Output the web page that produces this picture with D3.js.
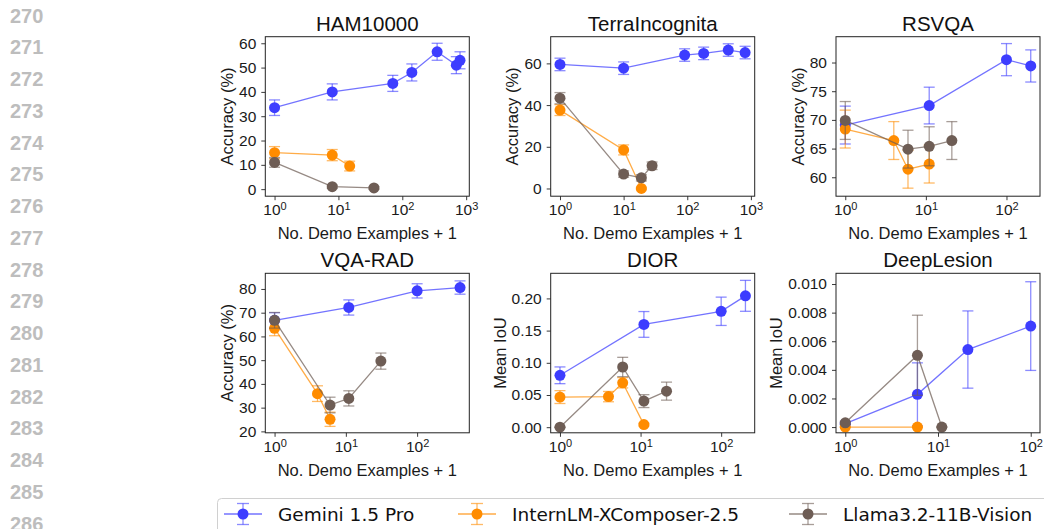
<!DOCTYPE html>
<html>
<head>
<meta charset="utf-8">
<script src="https://cdn.jsdelivr.net/npm/d3@7"></script>
<style>
  body { margin: 0; background: #fff; }
  svg { display: block; }
</style>
</head>
<body>
<div id="chart"></div>
<script>
var W = 1044, H = 529

// each point: [no. demo examples + 1, score, error bar half width]
var hamGemini = [[1, 33.5, 3.2], [8, 40, 3.3], [71, 43.5, 3.3], [141, 48, 3.5], [351, 56.5, 3.5], [701, 51, 3.5], [801, 53, 3.5]]
var hamIntern = [[1, 15, 2.5], [8, 14, 2.3], [15, 9.5, 2]]
var hamLlama = [[1, 11, 2], [8, 1, 0.6], [36, 0.5, 0.5]]

var terraGemini = [[1, 59.5, 3], [10, 57.7, 3], [91, 64, 3], [181, 64.8, 3], [441, 66.4, 3], [811, 65.2, 3]]
var terraIntern = [[1, 37.6, 2.6], [10, 18.5, 2.4], [19, 0, 0.5]]
var terraLlama = [[1, 43.3, 2.7], [10, 6.9, 1.5], [19, 5.1, 1.5], [28, 10.9, 1.8]]

var rsvqaGemini = [[1, 69.1, 3.3], [11, 72.5, 3.2], [100, 80.5, 2.8], [200, 79.4, 2.8]]
var rsvqaIntern = [[1, 68.4, 3.3], [4, 66.4, 3.3], [6, 61.4, 3.3], [11, 62.3, 3.3]]
var rsvqaLlama = [[1, 69.9, 3.3], [6, 64.9, 3.3], [11, 65.4, 3.4], [21, 66.4, 3.3]]

var vqaGemini = [[1, 66.8, 3.2], [11, 72.2, 3.2], [100, 79.2, 3], [400, 80.6, 2.8]]
var vqaIntern = [[1, 63.4, 3.1], [4, 35.9, 3.3], [6, 25.1, 3]]
var vqaLlama = [[1, 66.8, 3.3], [6, 31.1, 3.3], [11, 33.9, 3.2], [31, 49.6, 3.4]]

var diorGemini = [[1, 0.0806, 0.013], [11, 0.1596, 0.02], [100, 0.180, 0.022], [200, 0.204, 0.024]]
var diorIntern = [[1, 0.0468, 0.01], [4, 0.0475, 0.008], [6, 0.069, 0.008], [11, 0.004, 0.002]]
var diorLlama = [[1, 0, 0.0005], [6, 0.0935, 0.015], [11, 0.0405, 0.01], [21, 0.056, 0.014]]

var lesionGemini = [[1, 0.00024, 0.00008], [6, 0.00229, 0.0022], [21, 0.00542, 0.0027], [100, 0.00706, 0.0031]]
var lesionIntern = [[1, 0, 0.00002], [6, 0, 0.00002]]
var lesionLlama = [[1, 0.0003, 0.0001], [6, 0.00502, 0.0028], [11, 0, 0.00002]]

var models = ["Gemini 1.5 Pro", "InternLM-XComposer-2.5", "Llama3.2-11B-Vision"]
var colors = ["#3d3dff", "#ff8c00", "#6e5d55"]

var titles = ["HAM10000", "TerraIncognita", "RSVQA", "VQA-RAD", "DIOR", "DeepLesion"]
var yLabels = ["Accuracy (%)", "Accuracy (%)", "Accuracy (%)", "Accuracy (%)", "Mean IoU", "Mean IoU"]
var yTicks = [
  [0, 10, 20, 30, 40, 50, 60],
  [0, 20, 40, 60],
  [60, 65, 70, 75, 80],
  [20, 30, 40, 50, 60, 70, 80],
  [0, 0.05, 0.10, 0.15, 0.20],
  [0, 0.002, 0.004, 0.006, 0.008, 0.010]
]
var yFormats = [d3.format("d"), d3.format("d"), d3.format("d"), d3.format("d"), d3.format(".2f"), d3.format(".3f")]
var xTicks = [[1, 10, 100, 1000], [1, 10, 100, 1000], [1, 10, 100], [1, 10, 100], [1, 10, 100], [1, 10, 100]]
var lineNumbers = d3.range(270, 287)

var series = [
  [hamGemini, hamIntern, hamLlama],
  [terraGemini, terraIntern, terraLlama],
  [rsvqaGemini, rsvqaIntern, rsvqaLlama],
  [vqaGemini, vqaIntern, vqaLlama],
  [diorGemini, diorIntern, diorLlama],
  [lesionGemini, lesionIntern, lesionLlama]
]

// axis limits (log10 exponent for x), as matplotlib autoscaled them
var xLims = [[-0.145, 3.049], [-0.146, 3.06], [-0.115, 2.416], [-0.13, 2.732], [-0.115, 2.416], [-0.1, 2.1]]
var yLims = [[-2.9, 62.7], [-3.7, 72.8], [56.7, 84.5], [19.4, 86.6], [-0.0087, 0.239], [-0.0004, 0.01075]]

var colX = [265.3, 550.7, 836]
var rowY = [36.7, 273.3]
var pw = 204, ph = 159.5

var axisFont = "Liberation Sans, Arial, sans-serif"

var svg = d3.select("#chart").append("svg")
  .attr("width", W)
  .attr("height", H)
  .attr("viewBox", [0, 0, W, H])

svg.append("rect").attr("width", W).attr("height", H).attr("fill", "#fff")

// paper line numbers down the left margin
svg.append("g")
  .selectAll("text")
  .data(lineNumbers)
  .join("text")
    .attr("x", 10)
    .attr("y", (d, i) => 22.7 + i * 31.75)
    .attr("font-family", axisFont)
    .attr("font-weight", "bold")
    .attr("font-size", 20)
    .attr("fill", "#bdbdbd")
    .text(d => d)

function drawPanel(i) {
  var left = colX[i % 3], top = rowY[Math.floor(i / 3)]
  var x = d3.scaleLog()
    .domain(xLims[i].map(v => Math.pow(10, v)))
    .range([0, pw])
  var y = d3.scaleLinear()
    .domain(yLims[i])
    .range([ph, 0])

  var g = svg.append("g").attr("transform", `translate(${left},${top})`)

  // x axis with 10^n labels
  var gx = g.append("g")
    .attr("transform", `translate(0,${ph})`)
    .call(d3.axisBottom(x).tickValues(xTicks[i]).tickSize(4).tickPadding(4).tickFormat(() => ""))
  gx.select(".domain").remove()
  gx.selectAll(".tick line").attr("stroke", "#222").attr("stroke-width", 0.9)
  gx.selectAll(".tick text")
    .attr("font-family", axisFont)
    .attr("font-size", 15.5)
    .attr("fill", "#1a1a1a")
    .each(function (d) {
      var t = d3.select(this)
      t.append("tspan").text("10")
      t.append("tspan")
        .attr("dy", "-0.45em")
        .attr("font-size", 11)
        .text(Math.round(Math.log10(d)))
    })

  var gy = g.append("g")
    .call(d3.axisLeft(y).tickValues(yTicks[i]).tickSize(4).tickPadding(5).tickFormat(yFormats[i]))
  gy.select(".domain").remove()
  gy.selectAll(".tick line").attr("stroke", "#222").attr("stroke-width", 0.9)
  gy.selectAll(".tick text")
    .attr("font-family", axisFont)
    .attr("font-size", 15.5)
    .attr("fill", "#1a1a1a")

  var labelW = d3.max(gy.selectAll(".tick text").nodes(), n => n.getComputedTextLength())

  g.append("text")
    .attr("transform", `translate(${-9 - labelW - 6},${ph / 2}) rotate(-90)`)
    .attr("text-anchor", "middle")
    .attr("font-family", axisFont)
    .attr("font-size", 16.5)
    .attr("fill", "#1a1a1a")
    .text(yLabels[i])

  g.append("text")
    .attr("x", pw / 2)
    .attr("y", ph + 43)
    .attr("text-anchor", "middle")
    .attr("font-family", axisFont)
    .attr("font-size", 16.5)
    .attr("fill", "#1a1a1a")
    .text("No. Demo Examples + 1")

  g.append("text")
    .attr("x", pw / 2)
    .attr("y", -6)
    .attr("text-anchor", "middle")
    .attr("font-family", axisFont)
    .attr("font-size", 20.5)
    .attr("fill", "#111")
    .text(titles[i])

  var line = d3.line().x(d => x(d[0])).y(d => y(d[1]))

  series[i].forEach((data, m) => {
    var c = colors[m]
    var s = g.append("g")
    s.append("path")
      .datum(data)
      .attr("d", line)
      .attr("fill", "none")
      .attr("stroke", c)
      .attr("stroke-opacity", 0.72)
      .attr("stroke-width", 1.3)

    var eb = s.append("g")
      .attr("stroke", c)
      .attr("stroke-opacity", 0.6)
      .attr("stroke-width", 1.3)
      .selectAll("g")
      .data(data)
      .join("g")
    eb.append("line")
      .attr("x1", d => x(d[0])).attr("x2", d => x(d[0]))
      .attr("y1", d => y(d[1] - d[2])).attr("y2", d => y(d[1] + d[2]))
    eb.append("line")
      .attr("x1", d => x(d[0]) - 5.5).attr("x2", d => x(d[0]) + 5.5)
      .attr("y1", d => y(d[1] - d[2])).attr("y2", d => y(d[1] - d[2]))
    eb.append("line")
      .attr("x1", d => x(d[0]) - 5.5).attr("x2", d => x(d[0]) + 5.5)
      .attr("y1", d => y(d[1] + d[2])).attr("y2", d => y(d[1] + d[2]))

    s.selectAll("circle")
      .data(data)
      .join("circle")
        .attr("cx", d => x(d[0]))
        .attr("cy", d => y(d[1]))
        .attr("r", 5.5)
        .attr("fill", c)
  })

  g.append("rect")
    .attr("width", pw)
    .attr("height", ph)
    .attr("fill", "none")
    .attr("stroke", "#222")
    .attr("stroke-width", 1)
}

d3.range(6).forEach(drawPanel)

// legend along the bottom, cut off by the page edge like the reference
var legend = svg.append("g")
legend.append("rect")
  .attr("x", 217.5).attr("y", 498.5)
  .attr("width", 840).attr("height", 50)
  .attr("rx", 4)
  .attr("fill", "#fff")
  .attr("stroke", "#d0d0d0")

var legX = [243, 477, 808]
models.forEach((name, m) => {
  var cx = legX[m], cy = 514
  var h = legend.append("g").attr("stroke", colors[m])
  h.append("line").attr("x1", cx - 19).attr("x2", cx + 19).attr("y1", cy).attr("y2", cy)
    .attr("stroke-opacity", 0.72).attr("stroke-width", 1.3)
  h.append("line").attr("x1", cx).attr("x2", cx).attr("y1", cy - 10.5).attr("y2", cy + 10.5)
    .attr("stroke-opacity", 0.6).attr("stroke-width", 1.3)
  h.append("line").attr("x1", cx - 6).attr("x2", cx + 6).attr("y1", cy - 10.5).attr("y2", cy - 10.5)
    .attr("stroke-opacity", 0.6).attr("stroke-width", 1.3)
  h.append("line").attr("x1", cx - 6).attr("x2", cx + 6).attr("y1", cy + 10.5).attr("y2", cy + 10.5)
    .attr("stroke-opacity", 0.6).attr("stroke-width", 1.3)
  legend.append("circle").attr("cx", cx).attr("cy", cy).attr("r", 5.5).attr("fill", colors[m])
  legend.append("text")
    .attr("x", cx + 35)
    .attr("y", cy + 6.5)
    .attr("font-family", "DejaVu Sans, sans-serif")
    .attr("font-size", 18.5)
    .attr("fill", "#111")
    .text(name)
})
</script>
</body>
</html>
